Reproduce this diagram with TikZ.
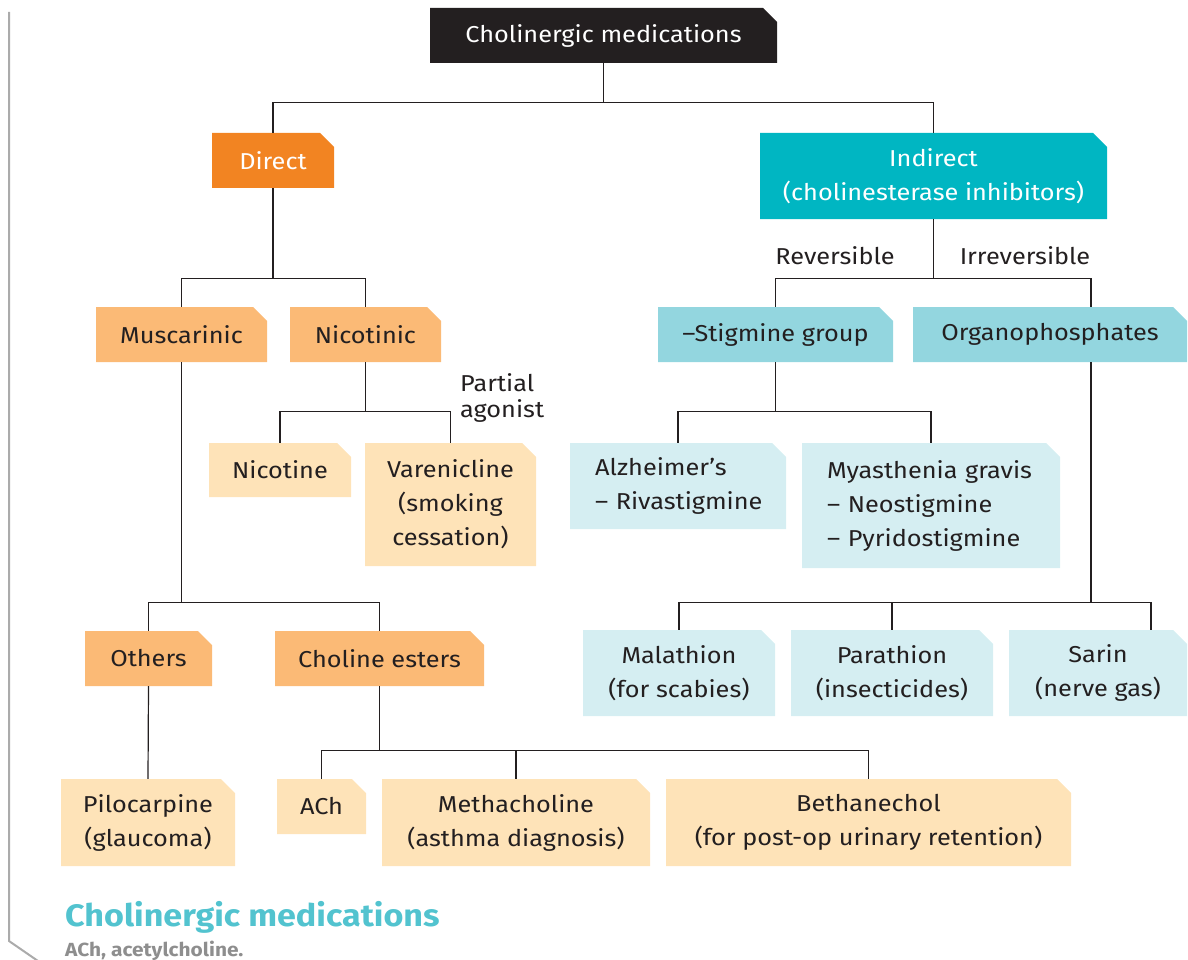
\documentclass[tikz,border=0pt]{standalone}
\usepackage{fontspec}
\setmainfont{Fira Sans}[FakeStretch=1.1]
\definecolor{ink}{HTML}{231F20}
\definecolor{cdirect}{HTML}{F28422}
\definecolor{cindirect}{HTML}{00B6C2}
\definecolor{orangemid}{HTML}{FBBA76}
\definecolor{orangepale}{HTML}{FEE3B8}
\definecolor{tealmid}{HTML}{93D6DF}
\definecolor{tealpale}{HTML}{D5EEF2}
\definecolor{titleteal}{HTML}{52C3CF}
\definecolor{framegray}{HTML}{ABABAB}
\definecolor{notegray}{HTML}{8E8E8E}
\begin{document}
\begin{tikzpicture}[x=1pt,y=-1pt,
  font=\fontsize{23}{34}\selectfont,
  % box with the top-right corner cut off
  cbox/.style={rectangle, inner sep=0pt, align=center, text=ink,
    path picture={\fill[#1]
      (path picture bounding box.south west) --
      (path picture bounding box.north west) --
      ([xshift=-14pt]path picture bounding box.north east) --
      ([yshift=-14pt]path picture bounding box.north east) --
      (path picture bounding box.south east) -- cycle;}},
  lbox/.style={cbox=#1, align=left, inner xsep=25pt},
  sz/.style 2 args={minimum width=#1pt, minimum height=#2pt},
  link/.style={draw=ink, line width=1.2pt},
  lab/.style={text=ink, inner sep=0pt}]

\useasboundingbox (0,0) rectangle (1188,960);

% page frame on the left
\draw[framegray, line width=2pt] (9,12) -- (9,941) -- (38,961);

% nodes
\node[cbox=ink, text=white, sz={347}{55}] (top) at (603.5,35.5) {Cholinergic medications};
\node[cbox=cdirect, text=white, sz={122}{55}] (direct) at (273,160.5) {Direct};
\node[cbox=cindirect, text=white, sz={347}{86}] (indirect) at (933.5,176) {Indirect\\(cholinesterase inhibitors)};

\node[cbox=orangemid, sz={171}{55}] (musc) at (181.5,334.5) {Muscarinic};
\node[cbox=orangemid, sz={151}{55}] (nic) at (365.5,334.5) {Nicotinic};
\node[cbox=orangepale, sz={142}{54}] (nicotine) at (280,470) {Nicotine};
\node[cbox=orangepale, sz={171}{123}] (varen) at (450.5,504.5) {Varenicline\\(smoking\\cessation)};
\node[lab, anchor=west, align=left, font=\fontsize{23}{26}\selectfont] (partial) at (460,398) {Partial\\agonist};

\node[cbox=orangemid, sz={127}{55}] (others) at (148.5,658.5) {Others};
\node[cbox=orangemid, sz={209}{55}] (cholest) at (379.5,658.5) {Choline esters};
\node[cbox=orangepale, sz={174}{87}] (pilo) at (148,822.5) {Pilocarpine\\(glaucoma)};
\node[cbox=orangepale, sz={89}{55}] (ach) at (321.5,806.5) {ACh};
\node[cbox=orangepale, sz={268}{87}] (metha) at (516,822.5) {Methacholine\\(asthma diagnosis)};
\node[cbox=orangepale, sz={405}{87}] (betha) at (868.5,822.5) {Bethanechol\\(for post-op urinary retention)};

\node[cbox=tealmid, sz={235}{55}] (stig) at (775.5,334.5) {–Stigmine group};
\node[cbox=tealmid, sz={274}{55}] (organo) at (1050,334.5) {Organophosphates};
\node[lab] (rev) at (835,256) {Reversible};
\node[lab] (irrev) at (1025,256) {Irreversible};

\node[lbox=tealpale, text width=166pt, minimum height=86pt] (alz) at (678,486) {\mbox{Alzheimer’s}\\\mbox{– Rivastigmine}};
\node[lbox=tealpale, text width=208pt, minimum height=125pt] (myas) at (931,505.5) {\mbox{Myasthenia gravis}\\\mbox{– Neostigmine}\\\mbox{– Pyridostigmine}};

\node[cbox=tealpale, sz={192}{86}] (mala) at (679,673) {Malathion\\(for scabies)};
\node[cbox=tealpale, sz={202}{86}] (para) at (892,673) {Parathion\\(insecticides)};
\node[cbox=tealpale, sz={178}{86}] (sarin) at (1098,673) {Sarin\\(nerve gas)};

% connectors
\draw[link] (top.south) -- ++(0,39) coordinate (j0);
\draw[link] (direct.north) |- (j0) -| (indirect.north);

\draw[link] (direct.south) -- ++(0,90) coordinate (j1);
\draw[link] (musc.north) |- (j1) -| (nic.north);

\draw[link] (nic.south) -- ++(0,49) coordinate (j2);
\draw[link] (nicotine.north) |- (j2) -| (varen.north);

\draw[link] (musc.south) -- ++(0,240) coordinate (j3);
\draw[link] (others.north) |- (j3) -| (cholest.north);
\draw[link] (others.south) -- (pilo.north);

\draw[link] (cholest.south) -- ++(0,64) coordinate (j4);
\draw[link] (ach.north) |- (j4) -| (betha.north);
\draw[link] (j4) -| (metha.north);

\draw[link] (indirect.south) -- ++(0,59) coordinate (j5);
\draw[link] (stig.north) |- (j5) -| ([xshift=41pt]organo.north);

\draw[link] (stig.south) -- ++(0,49) coordinate (j6);
\draw[link] (alz.north) |- (j6) -| (myas.north);

\draw[link] ([xshift=41pt]organo.south) -- ++(0,240) coordinate (j7);
\draw[link] (mala.north) |- (j7) -| ([xshift=53pt]sarin.north);
\draw[link] (j7) -| (para.north);

% caption
\node[anchor=base west, inner sep=0pt, text=titleteal, font=\fontsize{31}{31}\selectfont\bfseries] (cap) at (65,926) {Cholinergic medications};
\node[anchor=base west, inner sep=0pt, text=notegray, font=\fontsize{19}{19}\selectfont\bfseries] (note) at (65,956) {ACh, acetylcholine.};
\end{tikzpicture}
\end{document}
